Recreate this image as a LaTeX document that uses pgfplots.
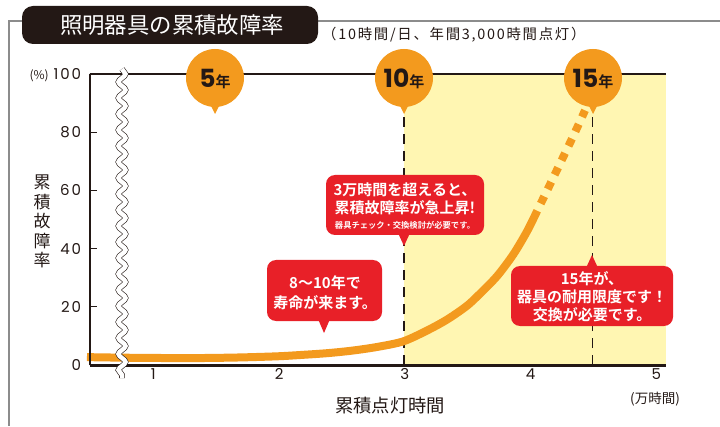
\documentclass[border=0pt]{standalone}
\usepackage{pgfplots}
\pgfplotsset{compat=1.18}
\usepackage{fontspec}
\setmainfont{Noto Sans CJK JP}[BoldFont={Noto Sans CJK JP Bold}]
\newfontfamily\pop{Poppins}
\usetikzlibrary{decorations.pathmorphing}
\definecolor{myorange}{RGB}{243,154,30}
\definecolor{myred}{RGB}{232,32,40}
\definecolor{myyellow}{RGB}{255,246,178}
\definecolor{mydark}{RGB}{35,24,21}
\definecolor{myframe}{RGB}{140,140,140}
\newcommand{\fs}[1]{\fontsize{#1}{#1}\selectfont}
\begin{document}
\begin{tikzpicture}[x=1pt,y=1pt]
\useasboundingbox (0,0) rectangle (720,426);
% frame
\draw[myframe, line width=1.3pt] (720,405) -- (9,405) -- (9,0);
% title
\fill[mydark, rounded corners=11pt] (22,382) rectangle (318,420);
\node[white, font=\fs{22.4}] at (172,401) {照明器具の累積故障率};
\node[anchor=west, text=mydark, font=\fs{14.4}\addfontfeature{LetterSpace=12}, inner sep=0] at (322,391) {（10時間/日、年間3,000時間点灯）};

\begin{axis}[at={(89.5pt,61pt)}, anchor=south west, scale only axis,
  width=576pt, height=291pt, xmin=0.5, xmax=5.08, ymin=0, ymax=100,
  axis line style={draw=none}, ytick={0,20,...,100}, xtick={1,2,3,4,5},
  tick pos=left, tick align=inside, major tick length=7pt,
  y tick style={mydark, line width=1pt}, x tick style={draw=none},
  tick label style={font=\pop\fs{15}\addfontfeature{LetterSpace=12}, text=mydark},
  yticklabel style={xshift=-5pt},
  xticklabel style={xshift=1pt},
  /pgf/number format/assume math mode=true, clip=false]
\fill[myyellow] (axis cs:3,0) rectangle (axis cs:5.08,100);
\draw[mydark, line width=1.2pt, dash pattern=on 10pt off 7pt] (axis cs:3,0) -- (axis cs:3,86);
\draw[mydark, line width=1.2pt, dash pattern=on 10pt off 7pt] (axis cs:4.5,0) -- (axis cs:4.5,86);
\addplot[myorange, line width=8pt, smooth, no marks] coordinates {
(0.48,2.7) (0.8,2.5) (1.1,2.4) (1.4,2.4) (1.7,2.6) (2.0,3.0) (2.2,3.5) (2.4,4.1)
(2.6,5.0) (2.8,6.3) (3.0,8.2) (3.2,12.2) (3.35,15.8) (3.5,20.3) (3.6,24.3)
(3.74,30.5) (3.87,38) (3.98,46) (4.06,53)};
\addplot[myorange, line width=8pt, smooth, no marks, dash pattern=on 8pt off 8pt, dash phase=8pt] coordinates {
(4.06,53) (4.15,61) (4.25,70) (4.35,79) (4.44,87.5)};
\draw[mydark, line width=2.8pt] (rel axis cs:0,1) -- (rel axis cs:1,1);
\draw[mydark, line width=3pt] (rel axis cs:0,0) -- (rel axis cs:1,0);
\draw[mydark, line width=2pt] (rel axis cs:0,0) -- (rel axis cs:0,1);
\end{axis}

% axis break wave
\draw[mydark, line width=0.6pt, double=white, double distance=4.5pt,
  decorate, decoration={snake, amplitude=3.5pt, segment length=16pt}] (122,357) -- (122,48);

% labels
\node[anchor=east, text=mydark, font=\fs{12}, inner sep=0] at (49,350) {(\%)};
\node[text=mydark, font=\fontsize{17}{19.5}\selectfont, align=center] at (42,204.5) {累\\積\\故\\障\\率};
\node[text=mydark, font=\fs{18.3}] at (390,20) {累積点灯時間};
\node[text=mydark, font=\fs{13.5}] at (655,27) {(万時間)};

% year bubbles
\foreach \x/\t in {215/5, 404/10, 593/15} {
  \fill[myorange] (\x,348) circle[radius=29];
  \fill[myorange] (\x-5,322) -- (\x+5,322) -- (\x,312) -- cycle;
  \node[text=mydark, inner sep=0] at (\x,347) {{\pop\bfseries\fs{25}\t}{\bfseries\fs{15}年}};
}

% callout 1
\fill[myred, rounded corners=9pt] (326,191) rectangle (484,251);
\fill[myred] (398,193) -- (410,193) -- (404,180) -- cycle;
\node[white, font=\bfseries\fs{15}] at (405,236) {3万時間を超えると、};
\node[white, font=\bfseries\fs{15}] at (405,218) {累積故障率が急上昇!};
\node[white, font=\bfseries\fs{8.3}] at (405,200.5) {器具チェック・交換検討が必要です。};

% callout 2
\fill[myred, rounded corners=9pt] (267,105) rectangle (382,166);
\fill[myred] (318,107) -- (330,107) -- (324,93) -- cycle;
\node[white, font=\bfseries\fs{15}] at (325,143) {8～10年で};
\node[white, font=\bfseries\fs{15}] at (325,123) {寿命が来ます。};

% callout 3
\fill[myred, rounded corners=9pt] (511,100) rectangle (673,160);
\fill[myred] (586,158) -- (598,158) -- (592,171) -- cycle;
\node[white, font=\bfseries\fs{15}] at (592,147) {15年が、};
\node[white, font=\bfseries\fs{15}] at (592,129) {器具の耐用限度です！};
\node[white, font=\bfseries\fs{15}] at (592,111) {交換が必要です。};
\end{tikzpicture}
\end{document}
